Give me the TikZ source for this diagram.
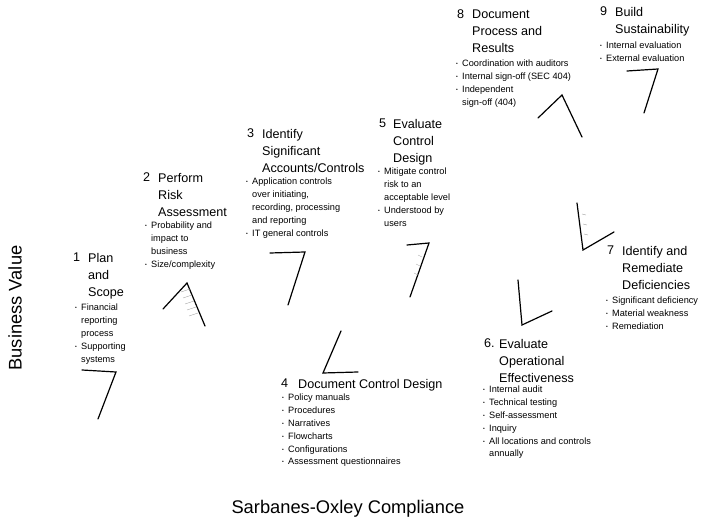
\documentclass[tikz,border=0pt]{standalone}
\usepackage{fontspec}
\setmainfont{Liberation Sans}
\newcommand\sxb{\makebox[6pt][l]{\raisebox{0.2ex}{\fontsize{5}{5}\selectfont\textbullet}}}
\newcommand\sxc{\hspace*{6pt}}
\begin{document}
\begin{tikzpicture}[x=1pt,y=-1pt,
  ttl/.style={anchor=north west, inner sep=0pt, align=left, font=\fontsize{12.6}{17}\selectfont},
  lst/.style={anchor=north west, inner sep=0pt, align=left, font=\fontsize{9.2}{12.8}\selectfont},
  axislabel/.style={inner sep=0pt, font=\fontsize{18.3}{20}\selectfont},
  stroke/.style={line width=1.2pt, line join=miter, line cap=round},
  hatch/.style={black!35, line width=0.4pt}]
\useasboundingbox (0,0) rectangle (705,529);

% axis captions
\node[axislabel, rotate=90] (yax) at (15,308) {Business Value};
\node[axislabel] (xax) at (348,509) {Sarbanes-Oxley Compliance};

% 1 Plan and Scope
\node[ttl] (n1) at (73,253) {1};
\node[ttl] (t1) at (88,253) {Plan\\and\\Scope};
\node[lst] (b1) at (75,304) {\sxb Financial\\\sxc reporting\\\sxc process\\\sxb Supporting\\\sxc systems};
\draw[stroke] (82,370) -- (116,372) -- (98,419);

% 2 Perform Risk Assessment
\node[ttl] (n2) at (143,173) {2};
\node[ttl] (t2) at (158,173) {Perform\\Risk\\Assessment};
\node[lst] (b2) at (145,222) {\sxb Probability and\\\sxc impact to\\\sxc business\\\sxb Size/complexity};
\draw[stroke] (163,309) -- (187,283) -- (205,326);
\foreach \k in {0,1,2,3,4}
  \draw[hatch] (181+2*\k,292+6*\k) -- (190+2*\k,289+6*\k);

% 3 Identify Significant Accounts/Controls
\node[ttl] (n3) at (247,129) {3};
\node[ttl] (t3) at (262,129) {Identify\\Significant\\Accounts/Controls};
\node[lst] (b3) at (246,178) {\sxb Application controls\\\sxc over initiating,\\\sxc recording, processing\\\sxc and reporting\\\sxb IT general controls};
\draw[stroke] (270,253) -- (305,252) -- (288,305);

% 4 Document Control Design
\node[ttl] (n4) at (281,379) {4};
\node[ttl] (t4) at (298,379) {Document Control Design};
\node[lst] (b4) at (282,394) {\sxb Policy manuals\\\sxb Procedures\\\sxb Narratives\\\sxb Flowcharts\\\sxb Configurations\\\sxb Assessment questionnaires};
\draw[stroke] (341,331) -- (323,373) -- (358,372);

% 5 Evaluate Control Design
\node[ttl] (n5) at (379,119) {5};
\node[ttl] (t5) at (393,119) {Evaluate\\Control\\Design};
\node[lst] (b5) at (378,168) {\sxb Mitigate control\\\sxc risk to an\\\sxc acceptable level\\\sxb Understood by\\\sxc users};
\draw[stroke] (407,245) -- (429,243) -- (410,297);
\foreach \k in {0,1,2}
  \draw[hatch] (418-2*\k,255+9*\k) -- (422-2*\k,257+9*\k);

% 6 Evaluate Operational Effectiveness
\node[ttl] (n6) at (484,339) {6.};
\node[ttl] (t6) at (499,339) {Evaluate\\Operational\\Effectiveness};
\node[lst] (b6) at (483,386) {\sxb Internal audit\\\sxb Technical testing\\\sxb Self-assessment\\\sxb Inquiry\\\sxb All locations and controls\\\sxc annually};
\draw[stroke] (518,280) -- (522,325) -- (552,311);

% 7 Identify and Remediate Deficiencies
\node[ttl] (n7) at (607,246) {7};
\node[ttl] (t7) at (622,246) {Identify and\\Remediate\\Deficiencies};
\node[lst] (b7) at (606,297) {\sxb Significant deficiency\\\sxb Material weakness\\\sxb Remediation};
\draw[stroke] (577,203) -- (583,250) -- (614,232);
\foreach \k in {0,1,2}
  \draw[hatch] (582+\k,214+10*\k) -- (586+\k,215+10*\k);

% 8 Document Process and Results
\node[ttl] (n8) at (457,10) {8};
\node[ttl] (t8) at (472,10) {Document\\Process and\\Results};
\node[lst] (b8) at (456,60) {\sxb Coordination with auditors\\\sxb Internal sign-off (SEC 404)\\\sxb Independent\\\sxc sign-off (404)};
\draw[stroke] (538,118) -- (562,95) -- (582,137);

% 9 Build Sustainability
\node[ttl] (n9) at (600,7) {9};
\node[ttl] (t9) at (615,7) {Build\\Sustainability};
\node[lst] (b9) at (600,42) {\sxb Internal evaluation\\\sxb External evaluation};
\draw[stroke] (627,71) -- (658,69) -- (644,113);
\end{tikzpicture}
\end{document}
